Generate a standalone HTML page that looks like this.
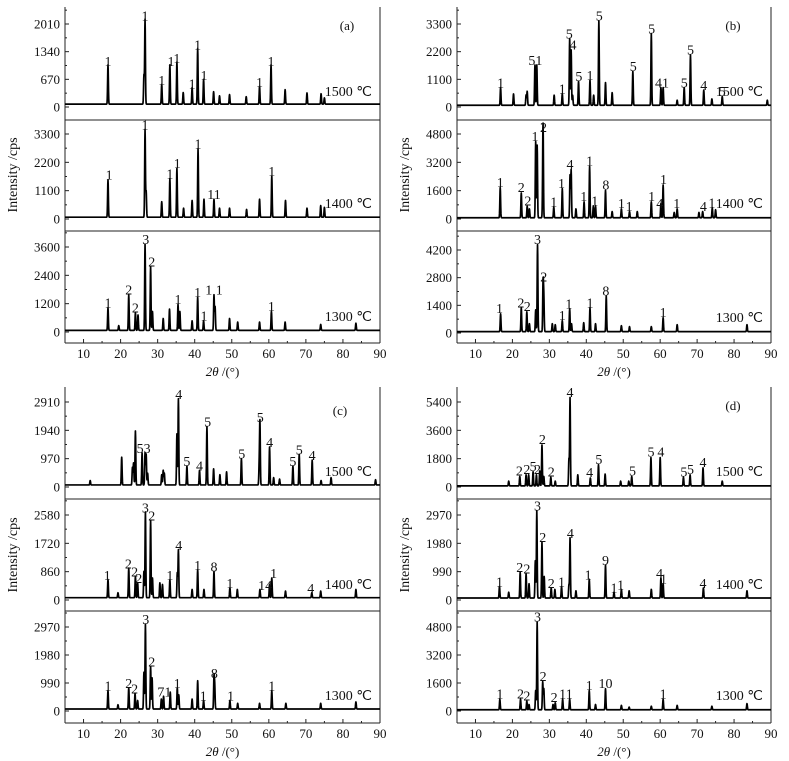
<!DOCTYPE html>
<html><head><meta charset="utf-8"><style>
html,body{margin:0;padding:0;background:#fff;}
svg{display:block;font-family:"Liberation Serif",serif;}
</style></head><body>
<svg id="fig" width="789" height="761" viewBox="0 0 789 761" xmlns="http://www.w3.org/2000/svg"></svg>
<script>
// ---------- data (peak position 2θ, intensity cps) ----------
const peaksA1500=[[16.6,950],[26.3,700],[26.6,2050],[31.1,480],[33.3,950],[35.2,1020],[36.9,280],[39.3,400],[40.8,1350],[42.4,600],[45.1,300],[46.7,200],[49.4,230],[53.9,180],[57.5,430],[60.6,950],[64.4,350],[70.3,270],[74.1,250],[75,150]];
const labelsA1500=[[16.6,"1",950],[26.6,"1",2050],[31.1,"1",480],[33.6,"1",950],[35.2,"1",1020],[39.3,"1",400],[40.8,"1",1350],[42.5,"1",600],[57.5,"1",430],[60.6,"1",950]];
const peaksA1400=[[16.6,1450],[26.6,3400],[26.9,1000],[31.1,600],[33.3,1500],[35.2,1900],[37,350],[39.3,650],[40.9,2650],[42.5,700],[45.2,700],[46.7,350],[49.4,350],[54,300],[57.5,700],[60.8,1600],[64.5,650],[70.3,350],[74,450],[75,380]];
const labelsA1400=[[16.9,"1",1450],[26.6,"1",3400],[33.3,"1",1500],[35.3,"1",1900],[40.9,"1",2650],[45.2,"11",700],[60.8,"1",1600]];
const peaksA1300=[[16.6,950],[19.5,200],[22.2,1500],[24,750],[24.7,650],[26.6,3650],[28.1,2700],[28.6,800],[31.5,500],[33.2,900],[35.5,1100],[36,800],[39.3,400],[40.8,1400],[42.4,400],[45.2,1500],[45.5,1000],[49.4,500],[51.6,350],[57.5,350],[60.7,800],[64.4,350],[74,250],[83.5,300]];
const labelsA1300=[[16.6,"1",950],[22.2,"2",1500],[24,"2",750],[26.8,"3",3650],[28.4,"2",2700],[35.5,"1",1100],[40.8,"1",1400],[42.5,"1",400],[45.2,"1 1",1500],[60.7,"1",800]];
const peaksB1500=[[16.8,700],[20.3,450],[23.7,400],[24,550],[26.1,1600],[26.6,1600],[31.3,400],[33.5,450],[35.5,2650],[35.9,2200],[36.3,400],[37.9,950],[41,1000],[42,400],[43.4,3350],[45.2,900],[47,500],[52.6,1350],[57.6,2850],[60.2,700],[60.8,700],[64.6,200],[66.5,700],[68.2,2000],[71.8,600],[74,250],[76.8,350],[89,200]];
const labelsB1500=[[16.8,"1",700],[26.2,"51",1600],[33.5,"1",450],[35.4,"5",2650],[36.4,"4",2200],[38,"5",950],[41,"1",1000],[43.5,"5",3350],[52.7,"5",1350],[57.7,"5",2850],[60.5,"41",700],[66.5,"5",700],[68.2,"5",2000],[71.8,"4",600],[76.8,"5",350]];
const peaksB1400=[[16.7,1700],[22.4,1400],[24,650],[24.6,500],[26.3,4300],[26.7,4100],[28.2,900],[28.3,4800],[31.2,600],[33.5,1650],[35.6,2400],[35.9,2700],[37.2,500],[39.4,900],[40.9,2900],[41.9,650],[42.5,650],[45.2,1550],[47,350],[49.5,500],[51.7,350],[53.8,350],[57.6,900],[60.2,800],[60.8,1850],[63.8,300],[64.6,500],[70.5,300],[71.5,350],[74.1,550],[75,450]];
const labelsB1400=[[16.7,"1",1700],[22.4,"2",1400],[24.2,"2",650],[26.1,"1",4300],[28.4,"2",4800],[31.2,"1",600],[33.3,"1",1650],[35.6,"4",2700],[39.3,"1",900],[40.9,"1",2900],[42.3,"1",650],[45.3,"8",1550],[49.5,"1",500],[51.6,"1",350],[57.7,"1",900],[59.9,"4",500],[60.9,"1",1850],[64.5,"1",500],[71.7,"4",350],[74,"1",550]];
const peaksB1300=[[16.8,900],[22.4,1200],[23.9,1000],[24.6,400],[26.3,1100],[26.8,4400],[28.3,2500],[28.5,1700],[30.8,400],[31.6,350],[33.5,550],[35.5,1150],[36,400],[39.3,450],[41,1200],[42.5,400],[45.4,1800],[49.5,300],[51.7,250],[57.6,250],[60.8,700],[64.6,350],[83.5,350]];
const labelsB1300=[[16.5,"1",900],[22.3,"2",1200],[24,"2",1000],[26.8,"3",4400],[28.5,"2",2500],[33.5,"1",550],[35.3,"1",1150],[41,"1",1200],[45.3,"8",1800],[60.8,"1",700]];
const peaksC1500=[[11.8,150],[20.3,950],[23.2,600],[23.5,750],[24,1850],[25.8,1100],[26.6,1100],[26.9,1050],[27.3,400],[31.1,350],[31.5,500],[31.8,400],[35.2,1750],[35.6,2950],[37.9,650],[41.3,500],[43.3,2000],[45.1,550],[46.8,350],[48.6,450],[52.6,900],[57.4,650],[57.6,2150],[60.2,1300],[61.3,250],[62.9,200],[66.5,650],[68.2,1050],[71.7,850],[74.1,150],[76.8,250],[88.8,180]];
const labelsC1500=[[26.2,"53",1100],[35.7,"4",2950],[37.9,"5",650],[41.3,"4",500],[43.5,"5",2000],[52.7,"5",900],[57.7,"5",2150],[60.2,"4",1300],[66.5,"5",650],[68.2,"5",1050],[71.7,"4",850]];
const peaksC1400=[[16.6,550],[19.3,150],[22.2,900],[24,650],[24.6,450],[26.3,800],[26.7,2600],[28.1,2350],[28.6,600],[30.6,450],[31.3,400],[33.3,550],[35.3,750],[35.6,1450],[39.3,250],[40.8,850],[42.5,250],[45.2,800],[49.5,300],[51.5,250],[57.6,250],[60.2,400],[60.8,600],[64.5,200],[71.6,150],[74,200],[83.5,250]];
const labelsC1400=[[16.4,"1",550],[22.1,"2",900],[23.8,"2",650],[24.9,"2",450],[26.7,"3",2600],[28.4,"2",2350],[33.3,"1",550],[35.7,"4",1450],[40.8,"1",850],[45.2,"8",800],[49.5,"1",300],[59,"14",250],[61.3,"1",600],[71.3,"4",150]];
const peaksC1300=[[16.6,650],[19.3,150],[22.2,750],[23.9,550],[24.6,300],[26.3,1300],[26.7,3000],[28.1,1500],[28.5,1100],[31,350],[31.6,450],[33.4,600],[35.3,750],[35.7,500],[39.3,350],[40.8,1000],[42.4,300],[45.2,1100],[45.4,800],[49.5,300],[51.6,200],[57.5,200],[60.8,650],[64.6,200],[74,200],[83.5,250]];
const labelsC1300=[[16.6,"1",650],[22.2,"2",750],[23.8,"2",550],[26.8,"3",3000],[28.4,"2",1500],[31.8,"71",450],[35.3,"1",750],[42.3,"1",300],[45.3,"8",1100],[49.7,"1",300],[60.8,"1",650]];
const peaksD1500=[[19,300],[22,600],[23.7,700],[24.4,700],[25.6,900],[26.5,700],[27.4,950],[28,2600],[28.5,600],[30.4,550],[31.6,300],[35.3,1700],[35.6,5600],[37.7,700],[41.1,500],[43.3,1350],[45.1,750],[49.3,300],[51.5,300],[52.3,600],[57.5,1800],[60,1800],[66.3,550],[68.1,700],[71.6,1150],[76.8,300]];
const labelsD1500=[[21.9,"2",600],[23.9,"2",700],[25.6,"5",900],[26.8,"2",700],[28.1,"2",2600],[30.5,"2",550],[35.6,"4",5600],[40.9,"4",500],[43.4,"5",1350],[52.5,"5",600],[57.5,"5",1800],[60.2,"4",1800],[66.4,"5",550],[68.2,"5",700],[71.6,"4",1150]];
const peaksD1400=[[16.5,400],[19,200],[22.1,900],[23.7,850],[24.5,500],[26.2,1300],[26.6,3050],[28,1950],[28.6,750],[30.5,350],[31.5,300],[33.3,400],[35.3,450],[35.6,2100],[37.2,250],[40.8,650],[45.2,1150],[47.5,200],[49.5,300],[51.6,250],[57.6,300],[60.2,700],[60.8,500],[71.7,350],[83.5,250]];
const labelsD1400=[[16.5,"1",400],[22,"2",900],[23.9,"2",850],[26.8,"3",3050],[28.2,"2",1950],[30.5,"2",350],[33.3,"1",400],[35.7,"4",2100],[40.5,"1",650],[45.2,"9",1150],[47.5,"1",200],[49.3,"1",300],[59.8,"4",700],[60.9,"1",500],[71.6,"4",350]];
const peaksD1300=[[16.6,600],[22.2,600],[23.9,500],[24.5,300],[26.3,1100],[26.7,5000],[28.2,1600],[28.5,1200],[31,300],[31.6,400],[33.6,600],[35.5,600],[40.8,1100],[42.5,300],[45.2,1200],[49.5,250],[51.6,150],[57.6,200],[60.8,600],[64.6,250],[74,200],[83.5,350]];
const labelsD1300=[[16.6,"1",600],[22.2,"2",600],[23.9,"2",500],[26.8,"3",5000],[28.3,"2",1600],[31.3,"2",400],[33.6,"1",600],[35.4,"1",600],[40.8,"1",1100],[45.2,"10",1200],[60.8,"1",600]];
const ticksA=[[0,670,1340,2010],[0,1100,2200,3300],[0,1200,2400,3600]];
const ticksB=[[0,1100,2200,3300],[0,1600,3200,4800],[0,1400,2800,4200]];
const ticksC=[[0,970,1940,2910],[0,860,1720,2580],[0,990,1980,2970]];
const ticksD=[[0,1800,3600,5400],[0,990,1980,2970],[0,1600,3200,4800]];
const xTicks=[10,20,30,40,50,60,70,80,90];
const temps=["1500 ℃","1400 ℃","1300 ℃"];

// ---------- layout ----------
const NS="http://www.w3.org/2000/svg";
const svg=document.getElementById('fig');
function mk(tag,attrs,parent){const e=document.createElementNS(NS,tag);for(const k in attrs)e.setAttribute(k,attrs[k]);(parent||svg).appendChild(e);return e;}
const panels=[
 {id:'a',x0:65,x1:380,top:7,subs:[[120,107,24],[231,219,134],[343,332,247]],ticks:ticksA,peaks:[peaksA1500,peaksA1400,peaksA1300],labels:[labelsA1500,labelsA1400,labelsA1300],lx:347,ly:30,ylx:60,ytx:17},
 {id:'b',x0:457,x1:771,top:7,subs:[[120,107,24],[231,219,134],[343,333,250]],ticks:ticksB,peaks:[peaksB1500,peaksB1400,peaksB1300],labels:[labelsB1500,labelsB1400,labelsB1300],lx:733,ly:30,ylx:452,ytx:409},
 {id:'c',x0:65,x1:380,top:387,subs:[[499,487,402],[611,600,515],[723,711,627]],ticks:ticksC,peaks:[peaksC1500,peaksC1400,peaksC1300],labels:[labelsC1500,labelsC1400,labelsC1300],lx:340,ly:415,ylx:60,ytx:17},
 {id:'d',x0:457,x1:771,top:387,subs:[[499,487,402],[611,600,515],[723,711,627]],ticks:ticksD,peaks:[peaksD1500,peaksD1400,peaksD1300],labels:[labelsD1500,labelsD1400,labelsD1300],lx:733,ly:410,ylx:452,ytx:409}
];
panels.forEach(p=>{
 const g=mk('g',{});
 
 
 const xs=v=>p.x0+(v-5)/85*(p.x1-p.x0);
 let prevBottom=p.top;
 p.subs.forEach((s,i)=>{
  const [bottom,zeroY,topY]=s;const tk=p.ticks[i];const tmax=tk[tk.length-1];
  const ys=v=>zeroY-(v/tmax)*(zeroY-topY);
  const sg=mk('g',{},g);
  
  
  mk('line',{x1:p.x0,y1:prevBottom,x2:p.x0,y2:bottom,stroke:'#222','stroke-width':1},sg);
  mk('line',{x1:p.x1,y1:prevBottom,x2:p.x1,y2:bottom,stroke:'#222','stroke-width':1},sg);
  mk('line',{x1:p.x0,y1:bottom,x2:p.x1,y2:bottom,stroke:'#222','stroke-width':1},sg);
  const step=tk[1]-tk[0];
  for(let v=-step;v<=tmax+step;v+=step/2){
   const y=ys(v);if(y<prevBottom+1||y>bottom-1)continue;
   const major=Math.abs((v/step)-Math.round(v/step))<1e-6;
   mk('line',{x1:p.x0,y1:y,x2:p.x0+(major?4:2),y2:y,stroke:'#222','stroke-width':1},sg);
  }
  tk.forEach(v=>{const t=mk('text',{x:p.ylx,y:ys(v)+4.5,'text-anchor':'end','font-size':13,fill:'#111'},sg);t.textContent=v;
   
   });
  const pk=p.peaks[i];let d='';
  for(let x=5;x<=90.0001;x+=0.05){
   let v=70;pk.forEach(([c,h])=>{const dx=(x-c)/0.1;if(Math.abs(dx)<5)v+=h*Math.exp(-dx*dx/2);});
   d+=(d?'L':'M')+xs(x).toFixed(2)+','+ys(v).toFixed(2);
  }
  const path=mk('path',{d:d,fill:'none',stroke:'#000','stroke-width':1.7,'stroke-linejoin':'round'},sg);
  
  
  p.labels[i].forEach(([x,txt,h])=>{const t=mk('text',{x:xs(x),y:ys(h)-2,'text-anchor':'middle','font-size':14,fill:'#111'},sg);t.textContent=txt;
   
   });
  const tt=mk('text',{x:p.x1-8,y:zeroY-11,'text-anchor':'end','font-size':14,fill:'#111'},sg);tt.textContent=temps[i];
  
  
  prevBottom=bottom;
 });
 const bot=p.subs[2][0];
 xTicks.forEach(v=>{mk('line',{x1:xs(v),y1:bot,x2:xs(v),y2:bot-4,stroke:'#222','stroke-width':1},g);
  const t=mk('text',{x:xs(v),y:bot+15,'text-anchor':'middle','font-size':13,fill:'#111'},g);t.textContent=v;
  
  });
 for(let v=15;v<90;v+=10)mk('line',{x1:xs(v),y1:bot,x2:xs(v),y2:bot-2,stroke:'#222','stroke-width':1},g);
 const xt=mk('text',{x:(p.x0+p.x1)/2,y:bot+33,'text-anchor':'middle','font-size':13,fill:'#111'},g);
 xt.innerHTML='<tspan font-style="italic">2θ</tspan> /(°)';
 
 
 const midY=(p.top+bot)/2;
 const yt=mk('text',{x:p.ytx,y:midY,'text-anchor':'middle','font-size':14,fill:'#111',transform:'rotate(-90 '+p.ytx+' '+midY+')'},g);
 yt.textContent='Intensity /cps';
 
 
 const pl=mk('text',{x:p.lx,y:p.ly,'text-anchor':'middle','font-size':13,fill:'#111'},g);pl.textContent='('+p.id+')';
 
 
});
</script>
</body></html>
